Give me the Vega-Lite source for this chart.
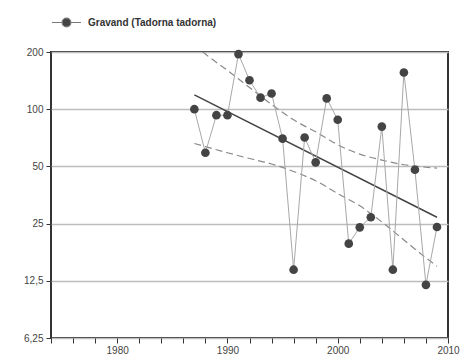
{
  "$schema": "https://vega.github.io/schema/vega-lite/v6.json",
  "width": 397,
  "height": 286,
  "autosize": "none",
  "padding": {"left": 51, "top": 52, "right": 17, "bottom": 22},
  "background": "white",
  "config": {
    "view": {"stroke": "#333", "strokeWidth": 2},
    "font": "Liberation Sans",
    "axis": {"labelFont": "Liberation Sans", "labelFontSize": 10, "labelColor": "#444", "tickColor": "#333", "domain": false, "title": null}
  },
  "datasets": {
    "obs": [
      {"year": 1987, "value": 100, "series": "Gravand (Tadorna tadorna)"},
      {"year": 1988, "value": 59, "series": "Gravand (Tadorna tadorna)"},
      {"year": 1989, "value": 93, "series": "Gravand (Tadorna tadorna)"},
      {"year": 1990, "value": 93, "series": "Gravand (Tadorna tadorna)"},
      {"year": 1991, "value": 195, "series": "Gravand (Tadorna tadorna)"},
      {"year": 1992, "value": 142, "series": "Gravand (Tadorna tadorna)"},
      {"year": 1993, "value": 115, "series": "Gravand (Tadorna tadorna)"},
      {"year": 1994, "value": 121, "series": "Gravand (Tadorna tadorna)"},
      {"year": 1995, "value": 70, "series": "Gravand (Tadorna tadorna)"},
      {"year": 1996, "value": 14.3, "series": "Gravand (Tadorna tadorna)"},
      {"year": 1997, "value": 71, "series": "Gravand (Tadorna tadorna)"},
      {"year": 1998, "value": 52.5, "series": "Gravand (Tadorna tadorna)"},
      {"year": 1999, "value": 114, "series": "Gravand (Tadorna tadorna)"},
      {"year": 2000, "value": 88, "series": "Gravand (Tadorna tadorna)"},
      {"year": 2001, "value": 19.6, "series": "Gravand (Tadorna tadorna)"},
      {"year": 2002, "value": 23.9, "series": "Gravand (Tadorna tadorna)"},
      {"year": 2003, "value": 27, "series": "Gravand (Tadorna tadorna)"},
      {"year": 2004, "value": 81, "series": "Gravand (Tadorna tadorna)"},
      {"year": 2005, "value": 14.3, "series": "Gravand (Tadorna tadorna)"},
      {"year": 2006, "value": 156, "series": "Gravand (Tadorna tadorna)"},
      {"year": 2007, "value": 48, "series": "Gravand (Tadorna tadorna)"},
      {"year": 2008, "value": 11.9, "series": "Gravand (Tadorna tadorna)"},
      {"year": 2009, "value": 24, "series": "Gravand (Tadorna tadorna)"}
    ],
    "band": [
      {"year": 1987, "upper": 218, "lower": 66},
      {"year": 1988, "upper": 195, "lower": 63.5},
      {"year": 1990, "upper": 160, "lower": 59},
      {"year": 1992, "upper": 130, "lower": 55},
      {"year": 1994, "upper": 106, "lower": 51.5},
      {"year": 1996, "upper": 88, "lower": 47},
      {"year": 1998, "upper": 76, "lower": 42},
      {"year": 2000, "upper": 65, "lower": 36},
      {"year": 2002, "upper": 58, "lower": 31},
      {"year": 2004, "upper": 54, "lower": 25.5},
      {"year": 2006, "upper": 51, "lower": 20.5},
      {"year": 2008, "upper": 49.5, "lower": 16.5},
      {"year": 2009, "upper": 49, "lower": 14.9}
    ],
    "trend": [
      {"year": 1987, "value": 119},
      {"year": 2009, "value": 27}
    ]
  },
  "layer": [
    {
      "data": {"name": "band"},
      "mark": {"type": "line", "strokeDash": [7, 4], "color": "#8a8a8a", "strokeWidth": 1.2, "clip": true, "interpolate": "monotone"},
      "encoding": {
        "x": {"field": "year", "type": "quantitative", "scale": {"domain": [1974, 2010], "nice": false, "zero": false},
          "axis": {"values": [1974,1976,1978,1980,1982,1984,1986,1988,1990,1992,1994,1996,1998,2000,2002,2004,2006,2008,2010], "tickCount": 60,
            "labelExpr": "datum.value % 10 == 0 ? toString(datum.value) : ''", "labelOverlap": false, "labelFlush": false, "grid": false, "tickSize": 5, "labelPadding": 2}},
        "y": {"field": "upper", "type": "quantitative", "scale": {"type": "log", "base": 2, "domain": [6.25, 200], "nice": false},
          "axis": {"values": [6.25, 12.5, 25, 50, 100, 200], "tickCount": 20, "labelExpr": "replace(toString(datum.value), '.', ',')", "labelOverlap": false,
            "grid": true, "gridColor": "#bdbdbd", "gridWidth": 1.5, "tickSize": 5, "labelPadding": 3}}
      }
    },
    {
      "data": {"name": "band"},
      "mark": {"type": "line", "strokeDash": [7, 4], "color": "#8a8a8a", "strokeWidth": 1.2, "clip": true, "interpolate": "monotone"},
      "encoding": {
        "x": {"field": "year", "type": "quantitative"},
        "y": {"field": "lower", "type": "quantitative"}
      }
    },
    {
      "data": {"name": "trend"},
      "mark": {"type": "line", "color": "#444", "strokeWidth": 1.5},
      "encoding": {
        "x": {"field": "year", "type": "quantitative"},
        "y": {"field": "value", "type": "quantitative"}
      }
    },
    {
      "data": {"name": "obs"},
      "mark": {"type": "line", "color": "#a8a8a8", "strokeWidth": 1},
      "encoding": {
        "x": {"field": "year", "type": "quantitative"},
        "y": {"field": "value", "type": "quantitative"}
      }
    },
    {
      "data": {"name": "obs"},
      "mark": {"type": "circle", "size": 75, "opacity": 1},
      "encoding": {
        "x": {"field": "year", "type": "quantitative"},
        "y": {"field": "value", "type": "quantitative"},
        "color": {"field": "series", "type": "nominal", "scale": {"range": ["#444444"]},
          "legend": {"orient": "top", "title": null, "offset": 22,
            "symbolType": "M-1,0H-0.3M0.3,0H1M-0.3,0A0.3,0.3 0 1 1 0.3,0A0.3,0.3 0 1 1 -0.3,0Z",
            "symbolSize": 841, "symbolStrokeColor": "#777", "symbolFillColor": "#444", "symbolStrokeWidth": 1.2, "symbolOpacity": 1,
            "labelFont": "Liberation Sans", "labelFontWeight": "bold", "labelFontSize": 10, "labelColor": "#333", "labelOffset": 6}}
      }
    }
  ]
}
